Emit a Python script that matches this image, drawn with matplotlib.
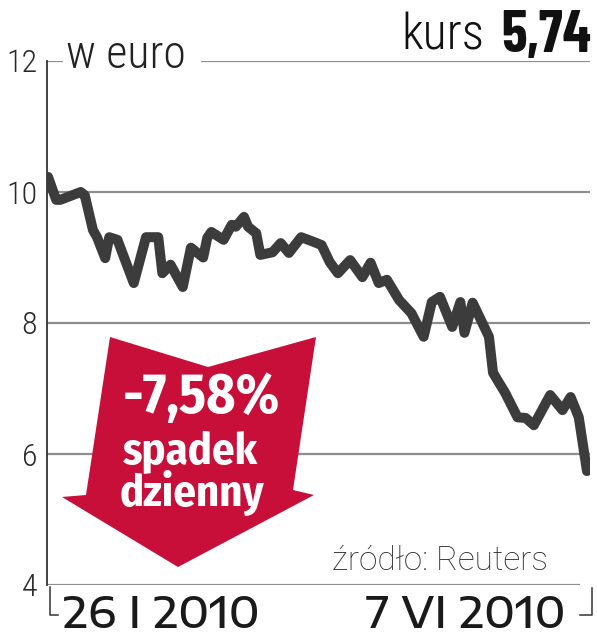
import matplotlib
matplotlib.use("Agg")
import matplotlib.pyplot as plt
from matplotlib.patches import Polygon
from matplotlib.lines import Line2D
import pandas as pd

# --- data ---
dates = [
    "2010-01-26", "2010-01-28", "2010-01-29", "2010-02-03", "2010-02-04",
    "2010-02-06", "2010-02-07", "2010-02-09", "2010-02-10", "2010-02-12",
    "2010-02-16", "2010-02-19", "2010-02-22", "2010-02-23", "2010-02-25",
    "2010-02-28", "2010-03-02", "2010-03-05", "2010-03-06", "2010-03-07",
    "2010-03-10", "2010-03-12", "2010-03-13", "2010-03-15", "2010-03-16",
    "2010-03-18", "2010-03-19", "2010-03-22", "2010-03-24", "2010-03-26",
    "2010-03-29", "2010-04-01", "2010-04-03", "2010-04-05", "2010-04-07",
    "2010-04-10", "2010-04-13", "2010-04-15", "2010-04-17", "2010-04-19",
    "2010-04-22", "2010-04-25", "2010-04-28", "2010-04-30", "2010-05-02",
    "2010-05-05", "2010-05-07", "2010-05-08", "2010-05-10", "2010-05-12",
    "2010-05-14", "2010-05-15", "2010-05-18", "2010-05-21", "2010-05-23",
    "2010-05-25", "2010-05-29", "2010-06-01", "2010-06-03", "2010-06-05",
    "2010-06-07",
]
prices = [
    10.23, 9.88, 9.88, 10.00, 9.95,
    9.42, 9.31, 8.99, 9.31, 9.27,
    8.61, 9.31, 9.31, 8.76, 8.89,
    8.55, 9.15, 9.00, 9.30, 9.39,
    9.27, 9.50, 9.47, 9.62, 9.47,
    9.37, 9.04, 9.08, 9.22, 9.07,
    9.31, 9.24, 9.19, 8.93, 8.76,
    8.96, 8.70, 8.92, 8.61, 8.66,
    8.35, 8.15, 7.79, 8.32, 8.40,
    7.94, 8.32, 7.85, 8.31, 8.05,
    7.79, 7.24, 6.93, 6.56, 6.55,
    6.44, 6.90, 6.67, 6.87, 6.56,
    5.74,
]
y_ticks = [4, 6, 8, 10, 12]
y_labels = ["4", "6", "8", "10", "12"]
first_label = "26 I 2010"
last_label = "7 VI 2010"
last_price = "5,74"
daily_change = "-7,58%"

df = pd.DataFrame({"date": pd.to_datetime(dates), "price": prices})

W, H = 597, 640
LINE = "#3c3c3c"
GRID = "#8e8e8e"
RED = "#c80f3a"
LIGHT = "Roboto Condensed"
BOLD = "Fira Sans Condensed"


def fx(px):
    return px / W


def fy(py):
    return 1 - py / H


fig = plt.figure(figsize=(W / 100, H / 100), dpi=100)
ax = fig.add_axes([fx(47), fy(585), fx(590) - fx(47), fy(61) - fy(585)])

# grid lines (the 12 line is broken by the "w euro" label)
for v in y_ticks:
    if v == 12:
        ax.axhline(v, xmin=0, xmax=0.028, color=GRID, lw=1.6, zorder=1)
        ax.axhline(v, xmin=0.285, xmax=1, color=GRID, lw=1.6, zorder=1)
    elif v == 4:
        ax.axhline(v, xmin=0, xmax=0.98, color=GRID, lw=1.6, zorder=1)
    else:
        ax.axhline(v, color=GRID, lw=1.6, zorder=1)

ax.plot(df["date"], df["price"], color=LINE, lw=7.2,
        solid_capstyle="round", solid_joinstyle="round", zorder=3)

ax.set_ylim(4, 12)
ax.set_xlim(df["date"].iloc[0] - pd.Timedelta(hours=6),
            df["date"].iloc[-1] + pd.Timedelta(hours=18))
ax.set_yticks(y_ticks)
ax.set_yticklabels(y_labels, family=LIGHT, fontweight="light", fontsize=23, color="#2a2a2a")
ax.tick_params(axis="y", length=0, pad=7)
ax.set_xticks([])
for s in ["top", "right", "bottom"]:
    ax.spines[s].set_visible(False)
ax.spines["left"].set_color("#333333")
ax.spines["left"].set_linewidth(1.3)
ax.set_facecolor("none")

# red arrow
arrow_px = [(110, 337), (208, 367), (316, 337), (293, 490), (314, 495),
            (178, 567), (62, 497), (86, 495)]
fig.patches.append(Polygon([(fx(x), fy(y)) for x, y in arrow_px], closed=True,
                           transform=fig.transFigure, facecolor=RED,
                           edgecolor="none", zorder=2))

fig.text(fx(201), fy(398), daily_change, family=BOLD, fontweight="bold",
         fontsize=40, color="white", ha="center", va="center", zorder=5)
fig.text(fx(191), fy(452), "spadek", family=BOLD, fontweight="bold",
         fontsize=32, color="white", ha="center", va="center", zorder=5)
fig.text(fx(192), fy(493), "dzienny", family=BOLD, fontweight="bold",
         fontsize=32, color="white", ha="center", va="center", zorder=5)

# header texts
fig.text(fx(66), fy(68), "w euro", family=LIGHT, fontweight="light", fontsize=33,
         color="#222222", ha="left", va="baseline")
fig.text(fx(484), fy(50), "kurs", family=LIGHT, fontweight="light", fontsize=36,
         color="#111111", ha="right", va="baseline")
fig.text(fx(591), fy(52), last_price, family="Barlow Condensed", fontweight="bold",
         fontsize=42, color="#111111", ha="right", va="baseline")

# source and date labels
fig.text(fx(548), fy(570), "źródło: Reuters", family="Roboto", fontweight="light",
         fontsize=24, color="#2a2a2a", ha="right", va="baseline")
fig.text(fx(63), fy(628), first_label, family="Encode Sans Expanded", fontweight="medium",
         fontsize=31, color="#1a1a1a", ha="left", va="baseline")
fig.text(fx(566), fy(628), last_label, family="Encode Sans Expanded", fontweight="medium",
         fontsize=31, color="#1a1a1a", ha="right", va="baseline")

# corner brackets under the axis
for xs, ys in [([50, 50, 58], [587, 615, 615]), ([592, 592, 580], [588, 615, 615])]:
    fig.add_artist(Line2D([fx(x) for x in xs], [fy(y) for y in ys],
                          color="#333333", lw=1.1, transform=fig.transFigure))

fig.savefig("out.png", dpi=100, facecolor="white")
